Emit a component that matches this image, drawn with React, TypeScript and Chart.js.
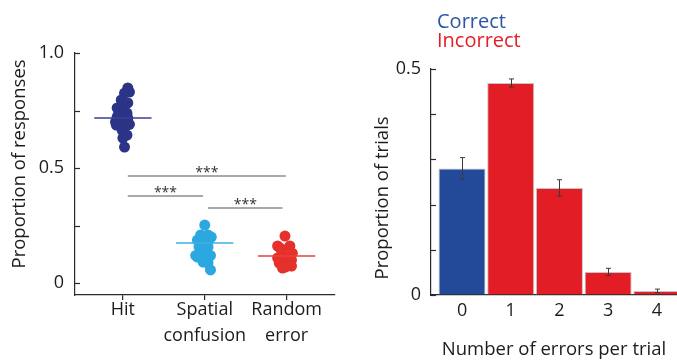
import React, { useEffect, useRef } from 'react';
import { Chart, registerables } from 'chart.js';
Chart.register(...registerables);

const FONT = '"Open Sans", sans-serif';
const TEXT = '#1f1b1c';
const AXIS = '#2a2a2a';

// ---------- Left panel data ----------
const groupLabels: string[][] = [['Hit'], ['Spatial', 'confusion'], ['Random', 'error']];
const groupPositions = [1, 2, 3];
const hitValues = [0.848, 0.83, 0.826, 0.796, 0.783, 0.761, 0.752, 0.74, 0.739, 0.722, 0.717, 0.70, 0.70, 0.687, 0.687, 0.69, 0.665, 0.643, 0.63, 0.591];
const hitJitter = [0.06, 0.08, 0.02, -0.02, 0.06, -0.07, 0.0, -0.05, 0.05, -0.07, 0.06, -0.02, -0.09, -0.08, 0.05, 0.08, -0.01, 0.05, 0.0, 0.02];
const spatialValues = [0.252, 0.209, 0.209, 0.20, 0.19, 0.187, 0.187, 0.178, 0.165, 0.157, 0.157, 0.135, 0.12, 0.12, 0.113, 0.113, 0.10, 0.091, 0.087, 0.057];
const spatialJitter = [0.0, -0.05, 0.04, 0.08, -0.06, -0.09, 0.05, -0.01, 0.01, -0.07, 0.04, -0.05, -0.11, 0.07, -0.09, 0.05, 0.0, -0.02, 0.04, 0.07];
const randomValues = [0.204, 0.161, 0.161, 0.15, 0.139, 0.13, 0.12, 0.109, 0.109, 0.10, 0.09, 0.087, 0.078, 0.074, 0.07, 0.065];
const randomJitter = [-0.02, -0.11, 0.04, -0.07, -0.06, 0.07, -0.04, -0.11, 0.0, 0.06, 0.04, -0.09, 0.01, 0.06, -0.01, -0.05];
const groupMeans = [0.717, 0.174, 0.117];
const leftYTicks = [0, 0.25, 0.5, 0.75, 1.0];
const leftYTickLabels = ['0', '', '0.5', '', '1.0'];
const sigStart = [1.06, 1.06, 2.04];
const sigEnd = [2.99, 1.98, 2.95];
const sigLevel = [0.465, 0.378, 0.326];
const sigText = ['***', '***', '***'];

// ---------- Right panel data ----------
const errorCounts = [0, 1, 2, 3, 4];
const trialProportions = [0.28, 0.469, 0.237, 0.051, 0.009];
const trialErrors = [0.024, 0.009, 0.018, 0.008, 0.004];
const rightYTicks = [0, 0.1, 0.2, 0.3, 0.4, 0.5];
const rightYTickLabels = ['0', '', '', '', '', '0.5'];
const legendLabels = ['Correct', 'Incorrect'];

const dotColors = ['#2b3487', '#2ca8e0', '#e6302b'];
const meanColors = ['#3a3f96', '#3ab0e4', '#e8403a'];
const barColors = ['#224a99', '#e31d25', '#e31d25', '#e31d25', '#e31d25'];
const legendColors = ['#2c56a5', '#e41e26'];

const inwardTicks = (vals: number[]) => ({
  id: 'inwardTicks',
  afterDraw(chart: any) {
    const { ctx, chartArea } = chart;
    const y = chart.scales.y;
    ctx.save();
    ctx.strokeStyle = AXIS;
    ctx.lineWidth = 1.2;
    vals.forEach((v) => {
      const py = Math.round(y.getPixelForValue(v)) + 0.5;
      ctx.beginPath();
      ctx.moveTo(chartArea.left, py);
      ctx.lineTo(chartArea.left + 5, py);
      ctx.stroke();
    });
    ctx.restore();
  },
});

const rotatedTitle = (text: string, x: number, y: number) => ({
  id: 'rotTitle',
  afterDraw(chart: any) {
    const { ctx } = chart;
    ctx.save();
    ctx.translate(x, y);
    ctx.rotate(-Math.PI / 2);
    ctx.font = `18.5px ${FONT}`;
    ctx.fillStyle = TEXT;
    ctx.textAlign = 'left';
    ctx.textBaseline = 'alphabetic';
    ctx.fillText(text, 0, 0);
    ctx.restore();
  },
});

const starsPlugin = {
  id: 'stars',
  afterDatasetsDraw(chart: any) {
    const { ctx } = chart;
    const xs = chart.scales.x;
    const ys = chart.scales.y;
    ctx.save();
    ctx.font = `14px ${FONT}`;
    ctx.fillStyle = '#333';
    ctx.textAlign = 'center';
    ctx.textBaseline = 'alphabetic';
    sigText.forEach((t, i) => {
      const cx = xs.getPixelForValue((sigStart[i] + sigEnd[i]) / 2);
      const cy = ys.getPixelForValue(sigLevel[i]);
      ctx.fillText(t, cx, cy + 1);
    });
    ctx.restore();
  },
};

const errorBarPlugin = {
  id: 'errbars',
  afterDatasetsDraw(chart: any) {
    const { ctx } = chart;
    const xs = chart.scales.x;
    const ys = chart.scales.y;
    ctx.save();
    ctx.strokeStyle = '#3a3a3a';
    ctx.lineWidth = 1;
    errorCounts.forEach((c, i) => {
      const px = Math.round(xs.getPixelForValue(c)) + 0.5;
      const top = ys.getPixelForValue(trialProportions[i] + trialErrors[i]);
      const bot = ys.getPixelForValue(trialProportions[i] - trialErrors[i]);
      ctx.beginPath();
      ctx.moveTo(px, top);
      ctx.lineTo(px, bot);
      ctx.moveTo(px - 2.5, top);
      ctx.lineTo(px + 2.5, top);
      ctx.moveTo(px - 2.5, bot);
      ctx.lineTo(px + 2.5, bot);
      ctx.stroke();
    });
    ctx.restore();
  },
};

const legendPlugin = {
  id: 'textLegend',
  afterDraw(chart: any) {
    const { ctx } = chart;
    ctx.save();
    ctx.font = `20px ${FONT}`;
    ctx.textAlign = 'left';
    ctx.textBaseline = 'alphabetic';
    legendLabels.forEach((t, i) => {
      ctx.fillStyle = legendColors[i];
      ctx.fillText(t, 97, 28 + i * 19);
    });
    ctx.restore();
  },
};

function leftConfig(): any {
  const pts = (vals: number[], jit: number[], cx: number) => vals.map((v, i) => ({ x: cx + jit[i], y: v }));
  const half = 0.35;
  return {
    type: 'scatter',
    data: {
      datasets: [
        ...groupMeans.map((m, i) => ({
          data: [{ x: groupPositions[i] - half, y: m }, { x: groupPositions[i] + half, y: m }],
          showLine: true, borderColor: meanColors[i], borderWidth: 1.5, pointRadius: 0, order: 1,
        })),
        ...sigLevel.map((lv, i) => ({
          data: [{ x: sigStart[i], y: lv }, { x: sigEnd[i], y: lv }],
          showLine: true, borderColor: '#8c8c8c', borderWidth: 1.5, pointRadius: 0, order: 1,
        })),
        { data: pts(hitValues, hitJitter, groupPositions[0]), backgroundColor: dotColors[0], borderWidth: 0, pointRadius: 5.5, order: 2 },
        { data: pts(spatialValues, spatialJitter, groupPositions[1]), backgroundColor: dotColors[1], borderWidth: 0, pointRadius: 5.5, order: 2 },
        { data: pts(randomValues, randomJitter, groupPositions[2]), backgroundColor: dotColors[2], borderWidth: 0, pointRadius: 5.5, order: 2 },
      ],
    },
    options: {
      animation: false,
      responsive: false,
      events: [],
      layout: { padding: { left: 0, top: 53, right: 5, bottom: 0 } },
      plugins: { legend: { display: false }, tooltip: { enabled: false } },
      scales: {
        x: {
          type: 'linear', min: 0.415, max: 3.585,
          afterBuildTicks: (s: any) => { s.ticks = groupPositions.map((v) => ({ value: v })); },
          afterFit: (s: any) => { s.height = 66; },
          grid: { display: true, drawOnChartArea: false, drawTicks: true, tickLength: 5, color: AXIS, lineWidth: 1.2 },
          border: { display: true, color: AXIS, width: 1.2 },
          ticks: {
            autoSkip: false, maxRotation: 0, padding: -3, color: TEXT,
            font: { family: FONT, size: 18, lineHeight: 1.45 },
            callback: (v: number) => { const i = groupPositions.indexOf(v); return i >= 0 ? groupLabels[i] : ''; },
          },
        },
        y: {
          min: -0.052, max: 1.0,
          afterBuildTicks: (s: any) => { s.ticks = leftYTicks.map((v) => ({ value: v })); },
          afterFit: (s: any) => { s.width = 75; },
          grid: { display: true, drawOnChartArea: false, drawTicks: false },
          border: { display: true, color: AXIS, width: 1.2 },
          ticks: {
            autoSkip: false, padding: 11, color: TEXT,
            font: { family: FONT, size: 18 },
            callback: (_v: number, i: number) => leftYTickLabels[i],
          },
        },
      },
    },
    plugins: [inwardTicks(leftYTicks), rotatedTitle('Proportion of responses', 25, 268.5), starsPlugin],
  };
}

function rightConfig(): any {
  return {
    type: 'bar',
    data: {
      datasets: [{
        data: errorCounts.map((c, i) => ({ x: c, y: trialProportions[i] })),
        backgroundColor: barColors,
        borderColor: '#c4c4c4',
        borderWidth: 1,
        barPercentage: 0.965,
        categoryPercentage: 1,
      }],
    },
    options: {
      animation: false,
      responsive: false,
      events: [],
      layout: { padding: { left: 0, top: 69, right: 0, bottom: 0 } },
      plugins: { legend: { display: false }, tooltip: { enabled: false } },
      scales: {
        x: {
          type: 'linear', min: -0.637, max: 4.414, offset: false,
          afterBuildTicks: (s: any) => { s.ticks = errorCounts.map((v) => ({ value: v })); },
          afterFit: (s: any) => { s.height = 66; },
          grid: { display: true, drawOnChartArea: false, drawTicks: false, offset: false },
          border: { display: true, color: AXIS, width: 1.2 },
          ticks: {
            autoSkip: false, maxRotation: 0, padding: 5, color: TEXT,
            font: { family: FONT, size: 18 },
            callback: (v: number) => String(v),
          },
          title: {
            display: true, text: 'Number of errors per trial', color: TEXT,
            font: { family: FONT, size: 18.5 }, padding: { top: 0, bottom: 0 },
          },
        },
        y: {
          min: 0, max: 0.5,
          afterBuildTicks: (s: any) => { s.ticks = rightYTicks.map((v) => ({ value: v })); },
          afterFit: (s: any) => { s.width = 91; },
          grid: { display: true, drawOnChartArea: false, drawTicks: false },
          border: { display: true, color: AXIS, width: 1.2 },
          ticks: {
            autoSkip: false, padding: 10, color: TEXT,
            font: { family: FONT, size: 18 },
            callback: (_v: number, i: number) => rightYTickLabels[i],
          },
        },
      },
    },
    plugins: [inwardTicks(rightYTicks), rotatedTitle('Proportion of trials', 48, 279.5), errorBarPlugin, legendPlugin],
  };
}

export default function App() {
  const leftRef = useRef<HTMLCanvasElement>(null);
  const rightRef = useRef<HTMLCanvasElement>(null);
  useEffect(() => {
    const l = new Chart(leftRef.current as HTMLCanvasElement, leftConfig());
    const r = new Chart(rightRef.current as HTMLCanvasElement, rightConfig());
    return () => { l.destroy(); r.destroy(); };
  }, []);
  return (
    <div style={{ position: 'fixed', left: 0, top: 0, width: 677, height: 361, background: '#fff', overflow: 'hidden' }}>
      <canvas ref={leftRef} width={340} height={361} style={{ position: 'absolute', left: 0, top: 0, width: 340, height: 361 }} />
      <canvas ref={rightRef} width={337} height={361} style={{ position: 'absolute', left: 340, top: 0, width: 337, height: 361 }} />
    </div>
  );
}
